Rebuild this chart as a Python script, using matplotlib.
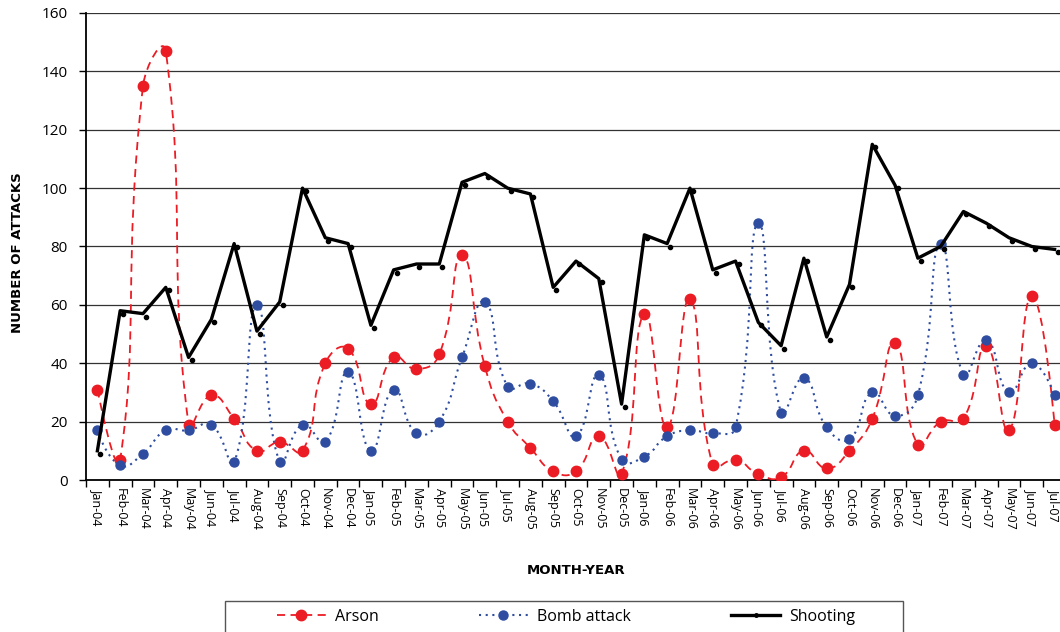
import numpy as np
import matplotlib.pyplot as plt
from matplotlib.path import Path
from matplotlib.patches import PathPatch, Rectangle
from matplotlib.lines import Line2D
from matplotlib.transforms import ScaledTranslation

plt.rcParams['font.family'] = ['Open Sans', 'DejaVu Sans']

months = ['Jan', 'Feb', 'Mar', 'Apr', 'May', 'Jun', 'Jul', 'Aug', 'Sep', 'Oct', 'Nov', 'Dec']
labels = []
for yr in ['04', '05', '06', '07']:
    for m in months:
        labels.append(f'{m}-{yr}')
labels = labels[:43]  # Jan-04 .. Jul-07

arson = [31, 7, 135, 147, 19, 29, 21, 10, 13, 10, 40, 45,
         26, 42, 38, 43, 77, 39, 20, 11, 3, 3, 15, 2,
         57, 18, 62, 5, 7, 2, 1, 10, 4, 10, 21, 47,
         12, 20, 21, 46, 17, 63, 19]
bomb = [17, 5, 9, 17, 17, 19, 6, 60, 6, 19, 13, 37,
        10, 31, 16, 20, 42, 61, 32, 33, 27, 15, 36, 7,
        8, 15, 17, 16, 18, 88, 23, 35, 18, 14, 30, 22,
        29, 81, 36, 48, 30, 40, 29]
shooting = [10, 58, 57, 66, 42, 55, 81, 51, 61, 100, 83, 81,
            53, 72, 74, 74, 102, 105, 100, 98, 66, 75, 69, 26,
            84, 81, 100, 72, 75, 54, 46, 76, 49, 67, 115, 101,
            76, 80, 92, 88, 83, 80, 79]

red = '#ec1c24'
blue = '#2e4da0'


def smooth_path(x, y, sx=22.8, sy=467 / 160, t=0.5):
    # smoothed line like the spreadsheet: bezier through every point,
    # control arms scaled by neighbouring segment lengths (in pixels)
    p = np.column_stack([np.asarray(x, float), np.asarray(y, float)])
    n = len(p)
    c_in = p.copy()
    c_out = p.copy()
    for i in range(1, n - 1):
        a = np.hypot((p[i, 0] - p[i - 1, 0]) * sx, (p[i, 1] - p[i - 1, 1]) * sy)
        b = np.hypot((p[i + 1, 0] - p[i, 0]) * sx, (p[i + 1, 1] - p[i, 1]) * sy)
        d = p[i + 1] - p[i - 1]
        c_in[i] = p[i] - t * a / (a + b) * d
        c_out[i] = p[i] + t * b / (a + b) * d
    verts = [tuple(p[0])]
    codes = [Path.MOVETO]
    for i in range(n - 1):
        verts += [tuple(c_out[i]), tuple(c_in[i + 1]), tuple(p[i + 1])]
        codes += [Path.CURVE4] * 3
    return Path(verts, codes)


fig = plt.figure(figsize=(10.6, 6.32), dpi=100)
ax = fig.add_axes([86 / 1060, 152 / 632, 980 / 1060, 467 / 632])

x = np.arange(len(labels))

ax.set_ylim(0, 160)
ax.set_xlim(-0.5, len(labels) - 0.5)
ax.set_yticks(range(0, 161, 20))
ax.yaxis.grid(True, color='#333333', linewidth=0.9)
ax.set_axisbelow(True)

ax.add_patch(PathPatch(smooth_path(x, arson), fill=False, edgecolor=red,
                       linewidth=1.3, linestyle=(0, (4.5, 3)), zorder=3))
ax.plot(x, arson, linestyle='none', marker='o', markersize=7.5, color=red, zorder=4)

ax.add_patch(PathPatch(smooth_path(x, bomb), fill=False, edgecolor=blue,
                       linewidth=1.5, linestyle=(0, (1, 2.2)), zorder=3))
ax.plot(x, bomb, linestyle='none', marker='o', markersize=6.5, color=blue, zorder=4)

ax.plot(x, shooting, color='black', linewidth=2.4, zorder=5)
off = ScaledTranslation(3 / 100, -3 / 100, fig.dpi_scale_trans)
ax.plot(x, shooting, linestyle='none', marker='o', markersize=3, color='black',
        transform=ax.transData + off, zorder=5)

ax.set_xticks(x)
ax.set_xticklabels(labels, rotation=270, fontsize=9)
ax.set_xticks(np.arange(-0.5, len(labels), 1), minor=True)
ax.tick_params(axis='x', which='major', length=0, pad=6)
ax.tick_params(axis='x', which='minor', length=5, width=1, direction='out')
ax.tick_params(axis='y', length=5, width=1, direction='out', pad=8, labelsize=11)

for s in ['top', 'right']:
    ax.spines[s].set_visible(False)
ax.spines['left'].set_linewidth(1.3)
ax.spines['bottom'].set_linewidth(1.3)

fig.text(18 / 1060, 1 - 253 / 632, 'NUMBER OF ATTACKS', rotation=90, ha='center', va='center',
         fontsize=9.5, fontweight='heavy', family=['DejaVu Sans'])
fig.text(576 / 1060, 1 - 570 / 632, 'MONTH-YEAR', ha='center', va='center',
         fontsize=9.5, fontweight='heavy', family=['DejaVu Sans'])

# legend box, runs off the bottom of the picture
fig.patches.append(Rectangle((225 / 1060, -0.05), 678 / 1060, 0.05 + 31 / 632,
                             transform=fig.transFigure, fill=False,
                             edgecolor='#555555', linewidth=1.0))

handles = [
    Line2D([], [], color=red, linewidth=1.3, linestyle=(0, (4.5, 3)), marker='o', markersize=7.5),
    Line2D([], [], color=blue, linewidth=1.5, linestyle=(0, (1, 2.2)), marker='o', markersize=6.5),
    Line2D([], [], color='black', linewidth=2.4, marker='o', markersize=2.5),
]
fig.legend(handles, ['Arson', 'Bomb attack', 'Shooting'], ncol=3,
           loc='center left', bbox_to_anchor=(277 / 1060, 1 - 617 / 632),
           fontsize=11.5, frameon=False, handlelength=3.05, handletextpad=0.56,
           columnspacing=6.3, borderpad=0, borderaxespad=0)

fig.savefig('out.png', dpi=100)
